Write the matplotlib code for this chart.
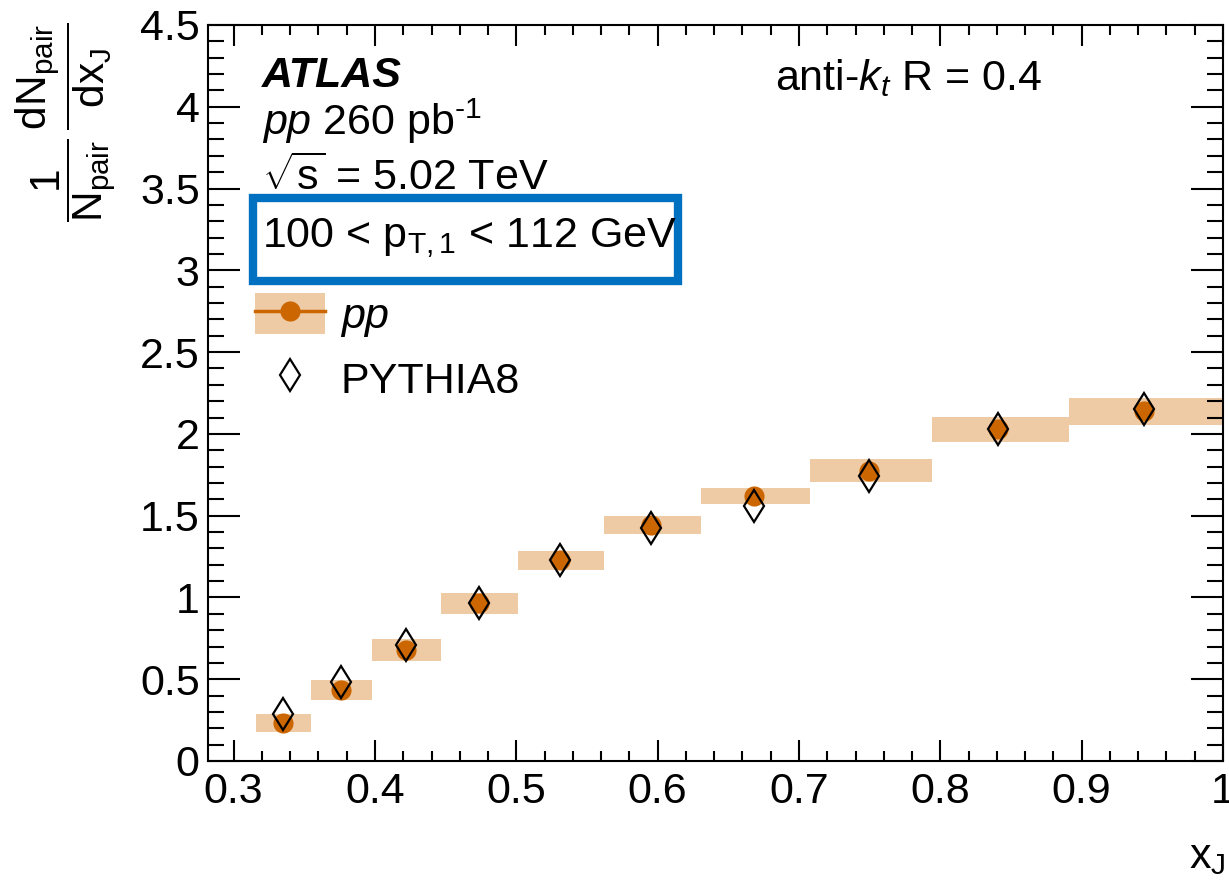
import numpy as np
import matplotlib
matplotlib.use('Agg')
import matplotlib.pyplot as plt
from matplotlib.patches import Patch, Rectangle
from matplotlib.lines import Line2D
from matplotlib.ticker import MultipleLocator

plt.rcParams['font.family'] = ['Liberation Sans', 'DejaVu Sans']
plt.rcParams['mathtext.fontset'] = 'custom'
plt.rcParams['mathtext.rm'] = 'Liberation Sans'
plt.rcParams['mathtext.it'] = 'Liberation Sans:italic'
plt.rcParams['mathtext.bf'] = 'Liberation Sans:bold'

# x_J bins (log spaced in the original)
bin_lo = [0.316, 0.355, 0.398, 0.447, 0.501, 0.562, 0.631, 0.708, 0.794, 0.891]
bin_hi = [0.355, 0.398, 0.447, 0.501, 0.562, 0.631, 0.708, 0.794, 0.891, 1.0]

# pp data and systematic uncertainty
pp_y = [0.235, 0.433, 0.677, 0.965, 1.226, 1.445, 1.622, 1.776, 2.028, 2.138]
pp_sys = [0.055, 0.060, 0.067, 0.065, 0.061, 0.056, 0.048, 0.071, 0.078, 0.083]

# PYTHIA8
py_y = [0.287, 0.484, 0.707, 0.967, 1.226, 1.425, 1.561, 1.744, 2.030, 2.153]

lo = np.array(bin_lo)
hi = np.array(bin_hi)
xc = np.sqrt(lo * hi)
ppy = np.array(pp_y)
sys = np.array(pp_sys)

c_band = '#eecaa5'
c_pp = '#cc6600'
c_box = '#0070c0'

fig = plt.figure(figsize=(12.29, 8.84), dpi=100)
ax = fig.add_axes([208/1229, 1 - 761/884, (1223-208)/1229, (761-25)/884])

ax.bar(lo, 2*sys, width=hi-lo, bottom=ppy-sys, align='edge', color=c_band, linewidth=0, zorder=1)
ax.plot(xc, ppy, 'o', color=c_pp, markersize=14.5, markeredgewidth=0, zorder=2)
ax.plot(xc, py_y, 'd', markersize=16.5, markerfacecolor='none', markeredgecolor='black',
        markeredgewidth=1.6, zorder=3)

ax.set_xlim(10**-0.55, 1.0)
ax.set_ylim(0, 4.5)
ax.xaxis.set_major_locator(MultipleLocator(0.1))
ax.xaxis.set_minor_locator(MultipleLocator(0.02))
ax.yaxis.set_major_locator(MultipleLocator(0.5))
ax.yaxis.set_minor_locator(MultipleLocator(0.1))
ax.xaxis.set_major_formatter(matplotlib.ticker.FuncFormatter(lambda v, p: ('%g' % round(v, 2))))
ax.yaxis.set_major_formatter(matplotlib.ticker.FuncFormatter(lambda v, p: ('%g' % round(v, 2))))

ax.tick_params(which='both', direction='in', top=True, right=True, width=1.5, labelsize=31)
ax.tick_params(axis='x', which='major', length=15, pad=8)
ax.tick_params(axis='x', which='minor', length=7.5)
ax.tick_params(axis='y', which='major', length=23, pad=6)
ax.tick_params(axis='y', which='minor', length=11.5)
for s in ax.spines.values():
    s.set_linewidth(1.5)

ax.text(0.985, -0.145, r'$\mathregular{x_{J}}$', transform=ax.transAxes, ha='center', va='baseline', fontsize=31)
fig.text(66/1229, 1 - 22/884,
         r'$\mathregular{\dfrac{1}{N_{pair}}\,\dfrac{dN_{pair}}{dx_{J}}}$',
         rotation=90, ha='center', va='top', fontsize=30.5)

ax.text(0.053, 0.916, 'ATLAS', transform=ax.transAxes, fontsize=31, fontweight='bold', fontstyle='italic', va='baseline')
ax.text(0.053, 0.851, r'$pp$ 260 pb$^{\mathregular{\u2010}1}$'.replace(r'\u2010', '\u2010'),
        transform=ax.transAxes, fontsize=31, va='baseline')
ax.text(0.053, 0.776, r'$\mathregular{\sqrt{s}}$ = 5.02 TeV', transform=ax.transAxes, fontsize=31, va='baseline')
ax.text(0.822, 0.912, r'anti-$k_{t}$ R = 0.4', transform=ax.transAxes, fontsize=31, va='baseline', ha='right')

ax.add_patch(Rectangle(((253-208)/1015, (761-281)/736), (678-253)/1015, (281-198)/736,
                       transform=ax.transAxes, facecolor='white', edgecolor=c_box, linewidth=6, zorder=5))
ax.text(0.053, (761-247)/736, r'100 < $\mathregular{p_{T,1}}$ < 112 GeV', transform=ax.transAxes,
        fontsize=31, va='baseline', zorder=6)

h_pp = (Patch(facecolor=c_band, edgecolor='none'),
        Line2D([], [], color=c_pp, linewidth=2.5, marker='o', markersize=14.5, markeredgewidth=0))
h_py = Line2D([], [], linestyle='none', marker='d', markersize=16.5, markerfacecolor='white',
              markeredgecolor='black', markeredgewidth=1.6)
ax.legend([h_pp, h_py], [r'$pp$', 'PYTHIA8'], loc='upper left',
          bbox_to_anchor=((255-208)/1015, (761-293)/736), frameon=False, fontsize=31,
          handlelength=1.63, handleheight=1.1, handletextpad=0.35, labelspacing=0.42,
          borderpad=0, borderaxespad=0)

fig.savefig('out.png', dpi=100)
